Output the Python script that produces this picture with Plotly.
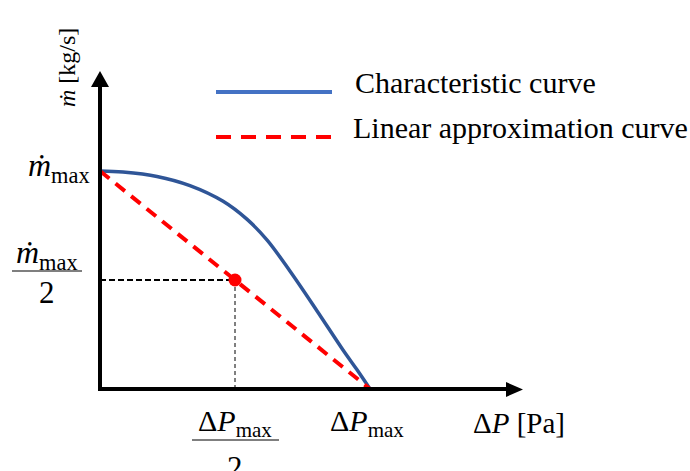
import plotly.graph_objects as go

# ---- data (normalised: ΔP / ΔP_max, ṁ / ṁ_max) ----
dp_char = [0.0, 0.085, 0.211, 0.333, 0.456, 0.544, 0.619, 0.704, 0.804, 0.900, 0.952, 1.0]
m_char = [1.0, 0.995, 0.975, 0.933, 0.861, 0.779, 0.683, 0.540, 0.358, 0.179, 0.088, 0.0]
dp_lin = [0.0, 1.0]
m_lin = [1.0, 0.0]
dp_mid = [0.5]
m_mid = [0.5]

legend_names = ["Characteristic curve", "Linear approximation curve"]

W, H = 690, 471
OX, OY = 100, 389          # pixel position of data origin
SX, SY = 270, 218          # pixels per data unit

def dx(px):  # pixel -> data x
    return (px - OX) / SX

def dy(py):  # pixel -> data y
    return (OY - py) / SY

def px(x):  # pixel -> paper x
    return x / W

def py(y):
    return 1 - y / H

SERIF = "Liberation Serif, Times New Roman, serif"
BLUE_CURVE = "#2F5597"
BLUE_LEG = "#4472C4"
RED = "#FF0000"

fig = go.Figure()

# guide lines
fig.add_trace(go.Scatter(x=[0, dp_mid[0]], y=[m_mid[0], m_mid[0]], mode="lines",
                         line=dict(color="black", width=2, dash="6px,3px"), hoverinfo="skip"))
fig.add_trace(go.Scatter(x=[dp_mid[0], dp_mid[0]], y=[0, m_mid[0]], mode="lines",
                         line=dict(color="black", width=1, dash="4px,3px"), hoverinfo="skip"))

fig.add_trace(go.Scatter(x=dp_char, y=m_char, mode="lines", name=legend_names[0],
                         line=dict(color=BLUE_CURVE, width=3.5, shape="spline", smoothing=1.0)))
fig.add_trace(go.Scatter(x=dp_lin, y=m_lin, mode="lines", name=legend_names[1],
                         line=dict(color=RED, width=4, dash="12px,8px")))
fig.add_trace(go.Scatter(x=dp_mid, y=m_mid, mode="markers",
                         marker=dict(color=RED, size=13), hoverinfo="skip"))

shapes = []
# axes (L shape)
x_base = dx(508)
y_base = dy(85)
shapes.append(dict(type="path", xref="x", yref="y",
                   path=f"M {x_base},0 L 0,0 L 0,{y_base}",
                   line=dict(color="black", width=4), layer="above"))
# arrowheads
shapes.append(dict(type="path", xref="x", yref="y",
                   path=f"M {dx(506)},{dy(382)} L {dx(523)},{dy(389.5)} L {dx(506)},{dy(397)} Z",
                   fillcolor="black", line=dict(color="black", width=0)))
shapes.append(dict(type="path", xref="x", yref="y",
                   path=f"M {dx(91)},{dy(87)} L {dx(100)},{dy(71)} L {dx(109)},{dy(87)} Z",
                   fillcolor="black", line=dict(color="black", width=0)))
# legend lines
shapes.append(dict(type="line", xref="paper", yref="paper", x0=px(216), x1=px(332),
                   y0=py(92), y1=py(92), line=dict(color=BLUE_LEG, width=4)))
shapes.append(dict(type="line", xref="paper", yref="paper", x0=px(216), x1=px(332),
                   y0=py(137), y1=py(137), line=dict(color=RED, width=4, dash="15px,10px")))
# fraction bars
shapes.append(dict(type="line", xref="paper", yref="paper", x0=px(12), x1=px(82),
                   y0=py(271), y1=py(271), line=dict(color="#7f7f7f", width=2)))
shapes.append(dict(type="line", xref="paper", yref="paper", x0=px(192), x1=px(279),
                   y0=py(440), y1=py(440), line=dict(color="#7f7f7f", width=2)))

annotations = []

def ann(text, x, y, size, xanchor="center", yanchor="middle", textangle=0):
    annotations.append(dict(text=text, x=px(x), y=py(y), xref="paper", yref="paper",
                            xanchor=xanchor, yanchor=yanchor, showarrow=False,
                            textangle=textangle,
                            font=dict(family=SERIF, size=size, color="black")))

MDOT = "<i>\u1e41</i>"
# legend texts
ann(legend_names[0], 353, 83, 30, xanchor="left")
ann(legend_names[1], 351, 128, 30, xanchor="left")
# y-axis title
ann(MDOT + " [kg/s]", 67, 68, 24, textangle=-90)
# y labels
ann(MDOT + "<sub>max</sub>", 92, 168, 32, xanchor="right")
ann(MDOT + "<sub>max</sub>", 47, 254, 32)
ann("2", 47, 292, 31)
# x labels
ann("Δ<i>P</i><sub>max</sub>", 235, 423, 30)
ann("2", 235, 467, 31)
ann("Δ<i>P</i><sub>max</sub>", 328, 423, 30, xanchor="left")
ann("Δ<i>P</i> [Pa]", 471, 423, 29, xanchor="left")

fig.update_layout(
    width=W, height=H,
    margin=dict(l=0, r=0, t=0, b=0),
    paper_bgcolor="white", plot_bgcolor="white",
    showlegend=False,
    xaxis=dict(range=[dx(0), dx(W)], visible=False, fixedrange=True),
    yaxis=dict(range=[dy(H), dy(0)], visible=False, fixedrange=True),
    shapes=shapes,
    annotations=annotations,
)

fig.write_html("out.html")
